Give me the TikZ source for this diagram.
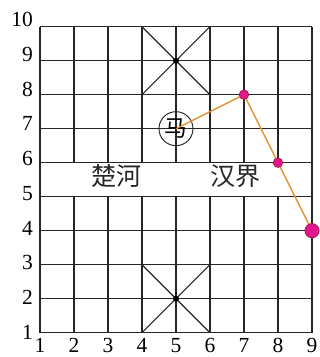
\documentclass[tikz,border=0pt]{standalone}
\usepackage{fontspec}
\setmainfont{Liberation Serif}
\newfontfamily\cjk{Noto Sans CJK SC}
\definecolor{gridc}{HTML}{262626}
\definecolor{pathc}{HTML}{E38F25}
\definecolor{dotfill}{HTML}{E0168C}
\definecolor{dotline}{HTML}{A8164E}
\tikzset{
  gridline/.style={draw=gridc, line width=0.95pt},
  axislabel/.style={font=\fontsize{18}{18}\selectfont, inner sep=0pt},
  rivertext/.style={font=\cjk\fontsize{21}{21}\selectfont, inner sep=0pt, text=gridc},
  piece/.style={circle, draw=gridc, line width=0.8pt, minimum size=1cm, inner sep=0pt, font=\cjk\fontsize{19}{19}\selectfont},
  movepath/.style={draw=pathc, line width=1.1pt},
  smalldot/.style={circle, fill=dotfill, draw=dotline, line width=0.6pt, minimum size=0.28cm, inner sep=0pt},
  bigdot/.style={circle, fill=dotfill, draw=dotline, line width=0.6pt, minimum size=0.42cm, inner sep=0pt},
  palacedot/.style={circle, fill=black, minimum size=0.18cm, inner sep=0pt}
}
\begin{document}
\begin{tikzpicture}
\useasboundingbox (-0.176,0.285) rectangle (9.235,10.785);
% horizontal lines
\foreach \j in {1,...,10} \draw[gridline] (1,\j) -- (9,\j);
% vertical lines
\draw[gridline] (1,1) -- (1,10);
\draw[gridline] (9,1) -- (9,10);
\foreach \i in {2,...,8} {
  \draw[gridline] (\i,1) -- (\i,5);
  \draw[gridline] (\i,6) -- (\i,10);
}
% palaces
\draw[gridline] (4,10) -- (6,8);
\draw[gridline] (6,10) -- (4,8);
\draw[gridline] (4,3) -- (6,1);
\draw[gridline] (4,1) -- (6,3);
\node[palacedot] (pt) at (5,9) {};
\node[palacedot] (pb) at (5,2) {};
% axis labels
\foreach \j in {1,...,10} \node[axislabel, anchor=east] (y\j) at (0.80,{\j+0.02*(\j-1)+0.02}) {\j};
\foreach \i in {1,...,9} \node[axislabel, anchor=base, text depth=0pt] (x\i) at (\i,0.41) {\i};
% river text
\node[rivertext] (chu) at (3.26,5.6) {楚河};
\node[rivertext] (han) at (6.74,5.6) {汉界};
% horse
\node[piece] (ma) at (5,7) {马};
\coordinate (a) at (7,8);
\coordinate (b) at (8,6);
\coordinate (c) at (9,4);
\draw[movepath] (ma.center) -- (a) -- (b) -- (c);
\node[smalldot] (da) at (a) {};
\node[smalldot] (db) at (b) {};
\node[bigdot] (dc) at (c) {};
\end{tikzpicture}
\end{document}
